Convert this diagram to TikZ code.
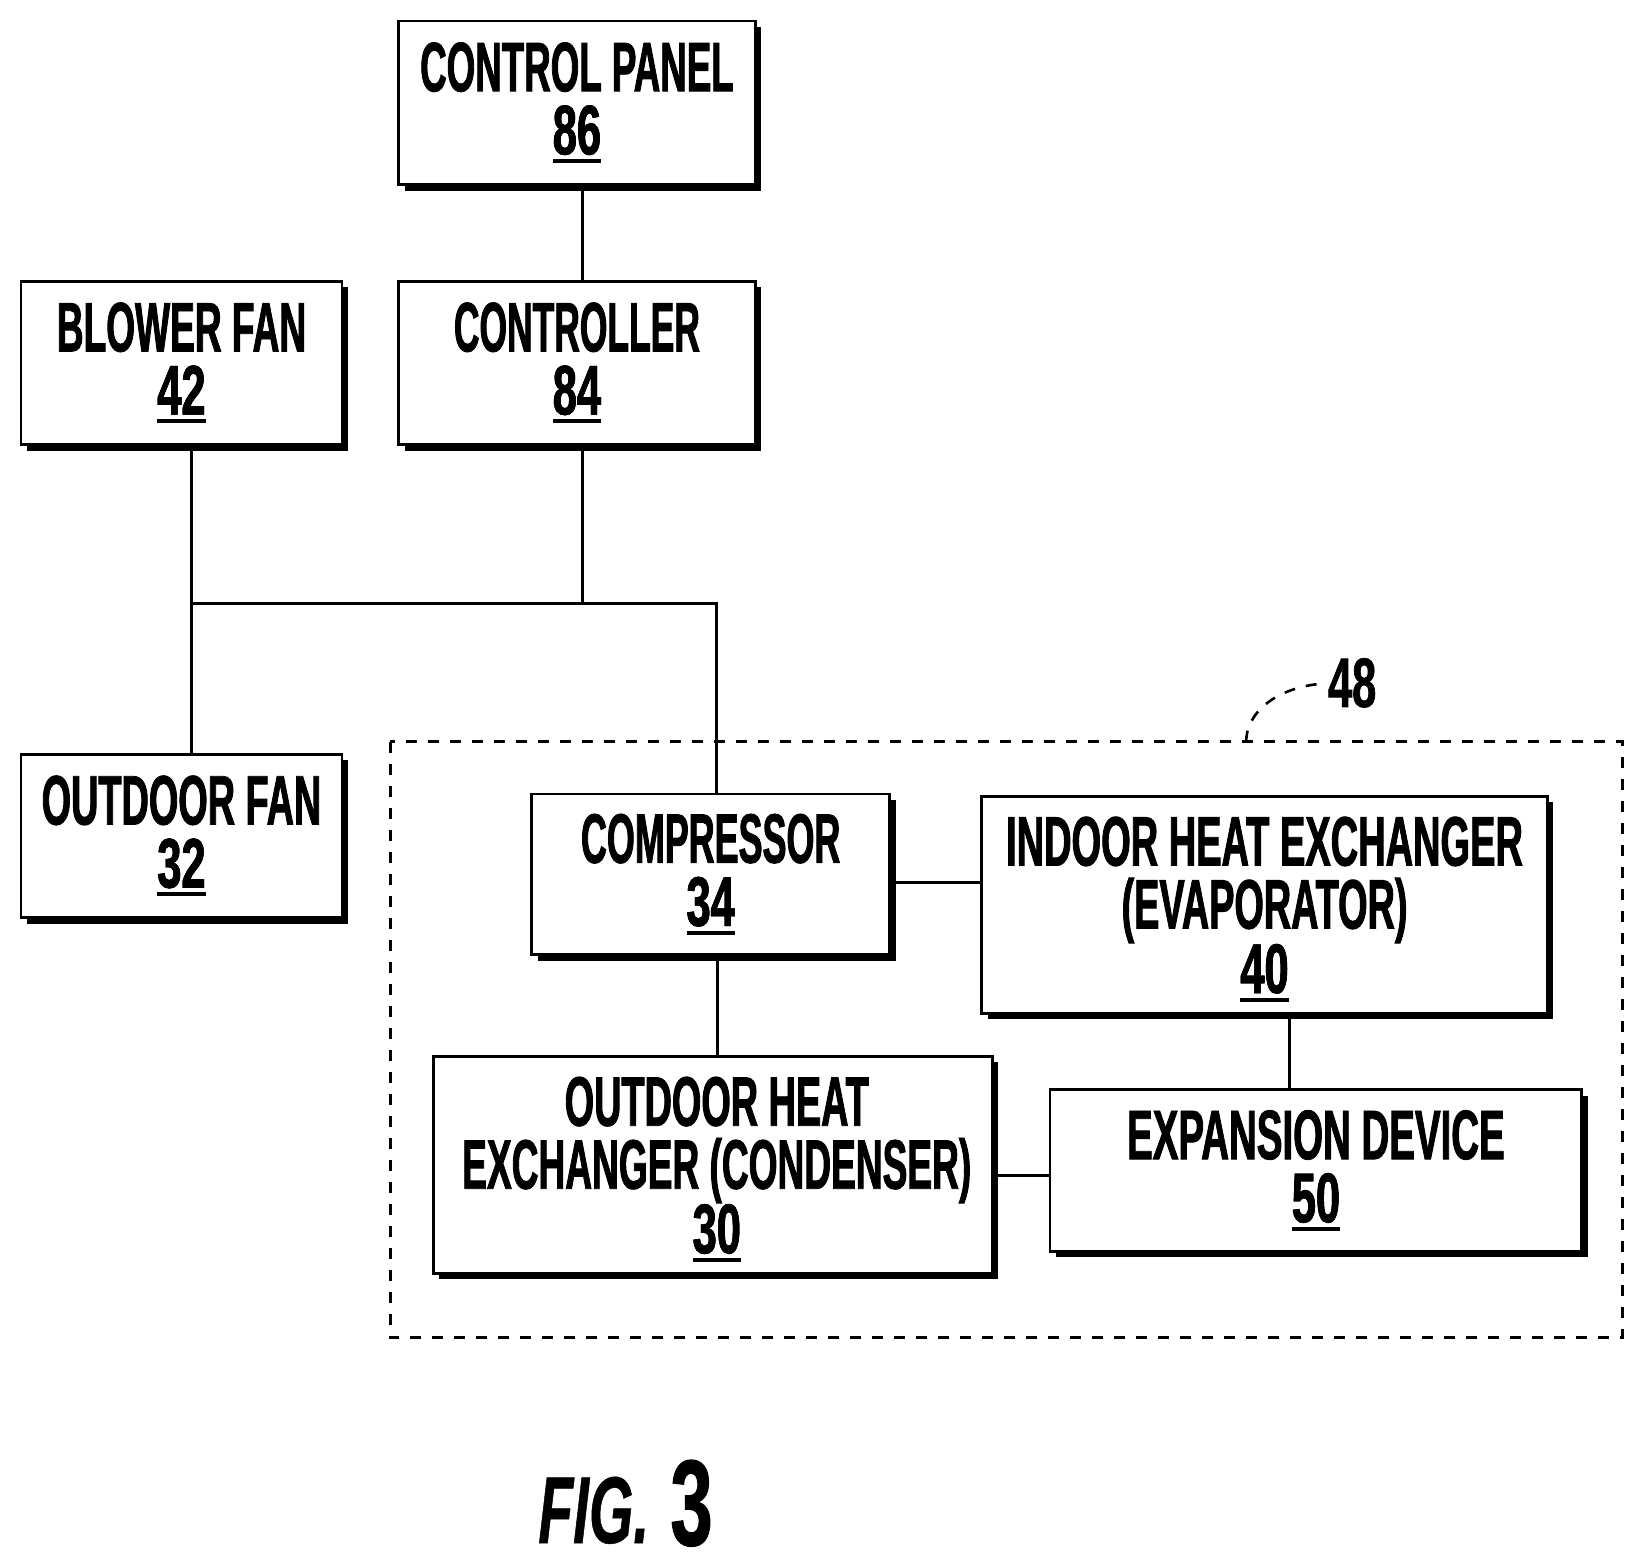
\documentclass[tikz,border=0pt]{standalone}
\usepackage{fontspec}
\setmainfont[FakeStretch=0.53,FakeBold=1.2,BoldFont={Liberation Sans Bold},BoldFeatures={FakeStretch=0.53,FakeBold=1.2}]{Liberation Sans}
\newfontfamily\numfont[FakeStretch=0.62,FakeBold=1]{Liberation Sans Bold}
\newfontfamily\figfont[FakeStretch=0.6,FakeBold=0.5]{Liberation Sans Bold Italic}
\usetikzlibrary{shadows}
\newcommand\unum[1]{\setbox0\hbox{\numfont #1}\leavevmode\rlap{\copy0}\rlap{\raisebox{-9pt}{\rule{\wd0}{4pt}}}\box0}
\newcommand\sx[2]{\scalebox{#1}[1]{#2}}
\tikzset{
  box/.style={draw=black,fill=white,line width=2.8pt,inner sep=0pt,outer sep=0pt,align=center,
    font=\fontsize{70}{63}\selectfont\bfseries,
    general shadow={fill=black,shadow xshift=6pt,shadow yshift=-6pt}},
  wire/.style={line width=3pt},
  dashbox/.style={line width=2.8pt,dash pattern=on 11pt off 11pt},
  tag/.style={font=\fontsize{70}{63}\numfont,inner sep=0pt}
}
% name, x1, y1, x2, y2, text
\newcommand\bx[6]{%
  \pgfmathsetmacro\bxw{(#4-#2)*1.049}\pgfmathsetmacro\bxh{(#5-#3)*1.049}%
  \pgfmathsetmacro\bxcx{(#2+#4)/2}\pgfmathsetmacro\bxcy{(#3+#5)/2}%
  \node[box,minimum width=\bxw pt,minimum height=\bxh pt] (#1) at (\bxcx,\bxcy) {#6};}
\begin{document}
\begin{tikzpicture}[x=1.049pt,y=-1.049pt]
\useasboundingbox (0,0) rectangle (1568.2,1491.9);
\bx{cp}{380}{20}{720}{176}{\sx{0.99}{CONTROL PANEL}\\\unum{86}}
\bx{bf}{20}{268}{326}{424}{BLOWER FAN\\\unum{42}}
\bx{ctl}{380}{268}{720}{424}{\sx{0.955}{CONTROLLER}\\\unum{84}}
\bx{of}{20}{719}{326}{875}{\sx{1.02}{OUTDOOR FAN}\\\unum{32}}
\bx{cm}{507}{757}{848}{910}{\sx{0.968}{COMPRESSOR}\\\unum{34}}
\bx{ihx}{936}{759}{1475}{966}{\rule{0pt}{58pt}\sx{1.025}{INDOOR HEAT EXCHANGER}\\\sx{1.02}{(EVAPORATOR)}\\\unum{40}}
\bx{ohx}{413}{1007}{946}{1214}{\rule{0pt}{58pt}\hspace*{8pt}\sx{1.02}{OUTDOOR HEAT}\\\hspace*{8pt}EXCHANGER (CONDENSER)\\\hspace*{8pt}\unum{30}}
\bx{ex}{1001}{1039}{1508}{1193}{\sx{1.037}{EXPANSION DEVICE}\\\unum{50}}
\coordinate (gnw) at (372,707);
\coordinate (gse) at (1547,1275);
\draw[dashbox] (gnw) rectangle (gse);
\node[tag] (n48) at (1289,651) {48};
\node[inner sep=0pt,font=\fontsize{95}{95}\figfont,anchor=base west] (figa) at (513,1471) {FIG.};
\node[inner sep=0pt,font=\fontsize{122}{122}\numfont,anchor=base west] (figb) at (639,1473) {3};
\coordinate (jc) at (555,575);
\coordinate (jb) at (183,575);
\coordinate (jr) at (683,575);
\coordinate (cmx) at (684,912);
\coordinate (iex) at (1229,968);
\coordinate (cihy) at (850,841);
\coordinate (ohy) at (948,1121);
\coordinate (lead) at (1188,707);
\draw[wire] (cp.south -| jc) -- (ctl.north -| jc);
\draw[wire] (ctl.south -| jc) -- (jc);
\draw[wire] (bf.south -| jb) -- (of.north -| jb);
\draw[wire] (jb) -- (jr) -- (cm.north -| jr);
\draw[wire] (cm.south -| cmx) -- (ohx.north -| cmx);
\draw[wire] (cm.east |- cihy) -- (ihx.west |- cihy);
\draw[wire] (ihx.south -| iex) -- (ex.north -| iex);
\draw[wire] (ohx.east |- ohy) -- (ex.west |- ohy);
\draw[line width=2.6pt,dash pattern=on 11pt off 11pt,shorten >=10pt] (lead) .. controls (1188,680) and (1215,657) .. (n48.west);
\end{tikzpicture}
\end{document}
